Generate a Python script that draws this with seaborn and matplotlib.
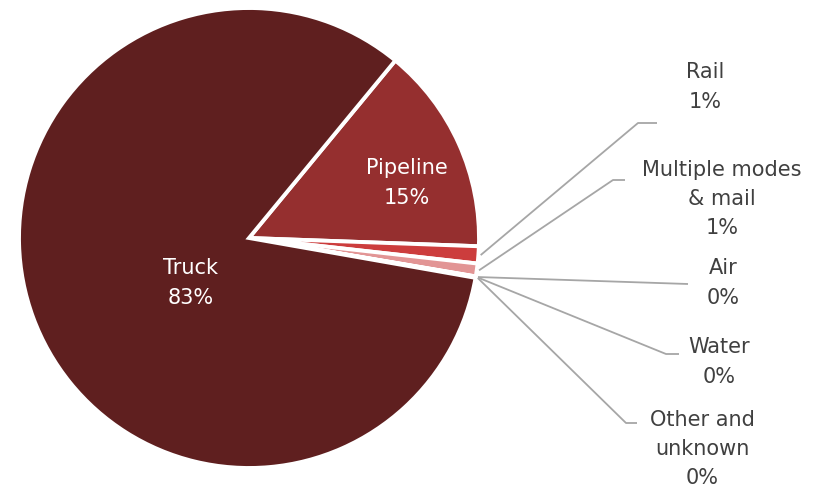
import numpy as np
import seaborn as sns
import matplotlib.pyplot as plt

sns.set_theme(style="white")
plt.rcParams['font.family'] = ['DejaVu Sans']

modes = ["Pipeline", "Rail", "Multiple modes\n& mail", "Air", "Water", "Other and\nunknown", "Truck"]
shares = [14.6, 1.2, 0.9, 0.03, 0.04, 0.03, 83.2]
colors = ["#952F2F", "#CC3D3D", "#E29595", "#B05050", "#D07070", "#7A2A2A", "#5F1F1F"]

# pixel layout of the reference (center, radius)
cx, cy, R = 249, 238, 230
W, H = 834, 490

def p2d(px, py):
    return (px - cx) / R, (cy - py) / R

fig = plt.figure(figsize=(W / 100, H / 100), dpi=100)
ax = fig.add_axes([0, 0, 1, 1])
wedges, _ = ax.pie(shares, colors=colors, startangle=50.5, counterclock=False,
                   radius=1, wedgeprops=dict(edgecolor="white", linewidth=2.8))
ax.set_xlim(-cx / R, (W - cx) / R)
ax.set_ylim(-(H - cy) / R, cy / R)
ax.set_aspect("equal")
ax.axis("off")

def pct(v):
    return f"{int(v + 0.5)}%"

fs = 15
ls = 1.58

# inside labels
inside = {"Pipeline": (407, 183), "Truck": (191, 283)}
for i, m in enumerate(modes):
    if m in inside:
        x, y = p2d(*inside[m])
        ax.text(x, y, f"{m}\n{pct(shares[i])}", ha="center", va="center",
                color="white", fontsize=fs, linespacing=ls)

# outside labels: elbow point, end of horizontal, text center
outside = {
    "Rail": ((638, 123), (657, 123), (705, 87)),
    "Multiple modes\n& mail": ((613, 180), (625, 180), (722, 199)),
    "Air": ((688, 284), (688, 284), (723, 283)),
    "Water": ((666, 354), (679, 354), (719, 362)),
    "Other and\nunknown": ((626, 423), (637, 423), (702, 449)),
}
for i, m in enumerate(modes):
    if m not in outside:
        continue
    w = wedges[i]
    ang = np.deg2rad((w.theta1 + w.theta2) / 2)
    sx, sy = 1.01 * np.cos(ang), 1.01 * np.sin(ang)
    e, h, t = outside[m]
    ex, ey = p2d(*e)
    hx, hy = p2d(*h)
    ax.plot([sx, ex, hx], [sy, ey, hy], color="#A6A6A6", lw=1.3, solid_capstyle="butt")
    tx, ty = p2d(*t)
    ax.text(tx, ty, f"{m}\n{pct(shares[i])}", ha="center", va="center",
            color="#404040", fontsize=fs, linespacing=ls)

fig.savefig("out.png", dpi=100)
